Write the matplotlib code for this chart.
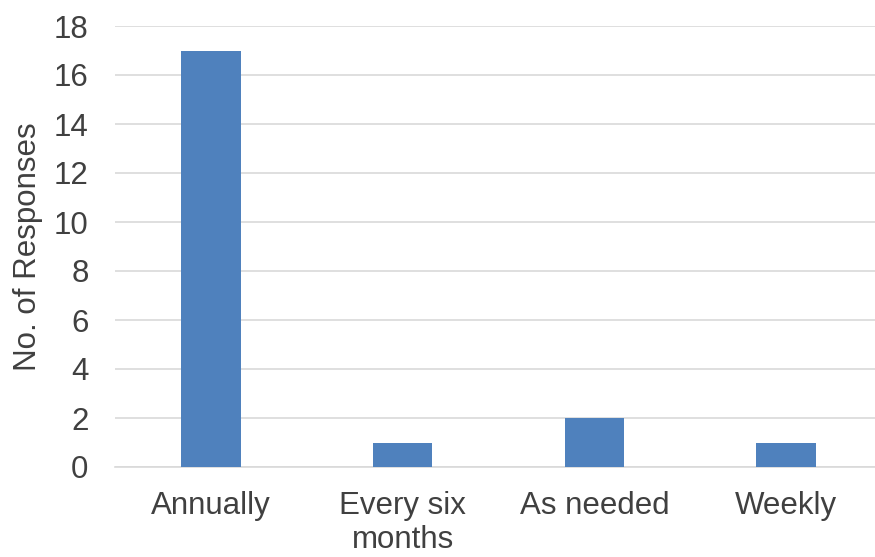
import matplotlib
matplotlib.use("Agg")
import matplotlib.pyplot as plt

categories = ["Annually", "Every six\nmonths", "As needed", "Weekly"]
values = [17, 1, 2, 1]
yticks = [0, 2, 4, 6, 8, 10, 12, 14, 16, 18]

plt.rcParams['font.family'] = ['Liberation Sans', 'DejaVu Sans']

fig = plt.figure(figsize=(8.75, 5.57), dpi=100)
ax = fig.add_axes([115/875, 1 - 467/557, (882-115)/875, (467-26)/557])
x = range(len(categories))
ax.bar(x, values, width=0.31, color="#4F81BD", zorder=3)
ax.set_xlim(-0.5, len(categories) - 0.5)
ax.set_ylim(0, 18)
ax.set_yticks(yticks)
ax.set_xticks(list(x))
ax.set_xticklabels(categories, fontsize=22.5, color="#404040", linespacing=1.18)
ax.tick_params(axis='y', labelsize=22.5, labelcolor="#404040", length=0, pad=19)
ax.tick_params(axis='x', length=0, pad=17)
ax.yaxis.grid(True, color="#D9D9D9", linewidth=1.2, zorder=0)
for s in ["top", "right", "left"]:
    ax.spines[s].set_visible(False)
ax.spines["bottom"].set_color("#D9D9D9")
ax.spines["bottom"].set_linewidth(1.2)
ax.set_ylabel("No. of Responses", fontsize=22.5, color="#404040", labelpad=8)
fig.savefig("out.png", dpi=100)
